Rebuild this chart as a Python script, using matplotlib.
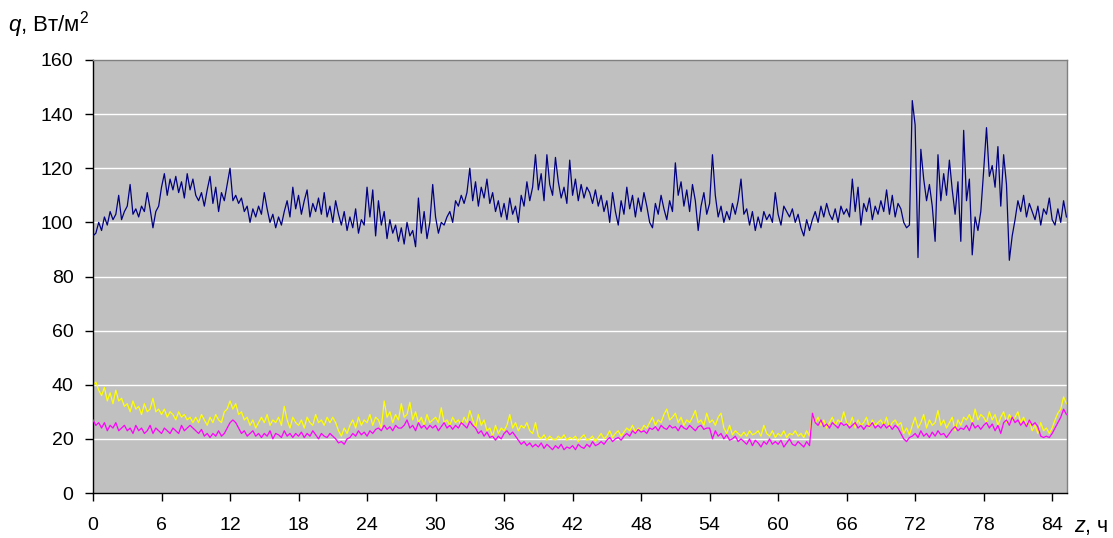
import numpy as np
import matplotlib
matplotlib.use("Agg")
import matplotlib.pyplot as plt

plt.rcParams["font.family"] = ["Liberation Sans", "DejaVu Sans"]
plt.rcParams["mathtext.fontset"] = "custom"
plt.rcParams["mathtext.rm"] = "Liberation Sans"
plt.rcParams["mathtext.it"] = "Liberation Sans:italic"

# --- data: heat flux q, W/m2, sampled every 0.25 h ---
step_h = 0.25

q_total = [
    95, 96, 100, 97, 102, 99, 104, 101, 103, 110, 101, 104,      # 0-3 h
    106, 114, 103, 105, 102, 106, 104, 111, 105, 98, 104, 106,   # 3-6
    113, 118, 110, 116, 112, 117, 111, 115, 109, 118, 112, 116,  # 6-9
    110, 108, 111, 106, 112, 117, 107, 113, 104, 111, 108, 114,  # 9-12
    120, 108, 110, 107, 109, 104, 106, 100, 105, 102, 106, 103,  # 12-15
    111, 105, 100, 103, 98, 102, 99, 104, 108, 102, 113, 105,    # 15-18
    110, 103, 108, 112, 102, 107, 104, 109, 103, 111, 102, 106,  # 18-21
    100, 108, 103, 99, 104, 97, 102, 98, 105, 96, 101, 99,       # 21-24
    113, 102, 112, 95, 108, 99, 104, 94, 101, 96, 99, 93,        # 24-27
    98, 92, 100, 95, 97, 91, 109, 96, 104, 94, 100, 114,         # 27-30
    102, 96, 100, 99, 102, 104, 100, 108, 106, 110, 107, 111,    # 30-33
    120, 108, 115, 106, 113, 109, 116, 107, 111, 104, 108, 102,  # 33-36
    107, 101, 109, 103, 106, 100, 110, 106, 115, 108, 113, 125,  # 36-39
    112, 118, 108, 125, 114, 110, 124, 115, 109, 113, 107, 123,  # 39-42
    110, 116, 108, 114, 109, 113, 111, 107, 112, 106, 110, 104,  # 42-45
    108, 100, 111, 104, 99, 108, 103, 113, 105, 110, 102, 109,   # 45-48
    104, 111, 106, 100, 98, 107, 103, 110, 105, 101, 108, 104,   # 48-51
    122, 110, 115, 106, 112, 104, 114, 108, 97, 106, 111, 103,   # 51-54
    107, 125, 110, 102, 106, 100, 104, 101, 107, 103, 108, 116,  # 54-57
    103, 105, 99, 104, 97, 102, 98, 104, 101, 103, 100, 111,     # 57-60
    103, 99, 106, 104, 102, 105, 100, 103, 98, 95, 101, 97,      # 60-63
    101, 104, 100, 106, 102, 107, 103, 101, 105, 100, 106, 103,  # 63-66
    105, 102, 116, 104, 113, 99, 107, 104, 109, 101, 106, 103,   # 66-69
    108, 104, 112, 103, 110, 102, 107, 105, 100, 98, 99, 145,    # 69-72
    136, 87, 127, 116, 108, 114, 106, 93, 125, 108, 118, 110,    # 72-75
    123, 112, 103, 115, 93, 134, 108, 116, 88, 102, 97, 104,     # 75-78
    119, 135, 117, 121, 113, 128, 106, 125, 114, 86, 95, 101,    # 78-81
    108, 104, 110, 102, 107, 104, 101, 106, 99, 105, 103, 109,   # 81-84
    101, 99, 105, 100, 108, 102,                                 # 84-85.25
]

q_yellow = [
    40, 41, 38, 36, 39, 34, 37, 33, 38, 34, 35, 32,
    33, 30, 34, 31, 32, 29, 33, 30, 31, 35, 30, 31,
    29, 31, 28, 30, 29, 27, 30, 28, 29, 27, 28, 26,
    28, 26, 29, 27, 25, 28, 26, 29, 27, 26, 30, 31,
    34, 31, 33, 29, 30, 27, 28, 25, 27, 24, 26, 28,
    26, 29, 25, 27, 26, 28, 25, 32, 27, 24, 28, 26,
    25, 27, 24, 28, 26, 25, 29, 26, 27, 25, 28, 26,
    28, 26, 23, 21, 24, 22, 25, 27, 24, 28, 25, 27,
    26, 29, 25, 28, 27, 24, 34, 28, 30, 26, 29, 27,
    33, 28, 29, 33.5, 27, 30, 26, 28, 25, 29, 26, 27,
    28, 26, 31.5, 26, 27, 25, 28, 26, 27, 25, 28, 26,
    30.5, 27, 24, 29, 25, 27, 23, 24, 21, 25, 22, 24,
    23, 25, 29, 24, 26, 23, 25, 24, 26, 23, 22, 26,
    21, 20, 21.5, 19.5, 21, 20, 19.5, 21, 20, 21.5, 19.5, 20.5,
    20, 21, 19, 20.5, 21.5, 19.5, 20, 21, 19, 20.5, 22, 20,
    21, 23, 20.5, 22, 23, 21, 22.5, 24, 23, 25, 22.5, 24,
    23, 25, 24, 26, 28, 25, 27, 26, 29, 31, 27, 28,
    29.5, 26, 28, 25, 27, 26, 28, 30.5, 26, 27, 25, 29.5,
    26, 27, 25, 28, 29.5, 24, 22, 25, 21.5, 23, 22, 21,
    22.5, 21, 23, 21.5, 22, 23, 21, 25, 22, 21, 23, 20.5,
    22, 21, 23, 20.5, 22, 21.5, 23, 21, 22, 20.5, 23, 21,
    29.5, 26, 28, 25, 27, 24, 26, 28, 25, 27, 26, 30,
    26, 25, 28, 24, 27, 25, 26, 28, 24, 27, 25, 26,
    27, 25, 28, 24, 26, 27, 25, 26, 22, 24, 21.5, 25,
    28, 24, 26, 29, 24, 27, 25, 26, 30.5, 25, 27, 24,
    26, 28, 23, 27, 25, 28, 27, 29, 26, 31, 27, 29,
    28, 26, 30, 27, 29, 25, 28, 30, 26, 29, 27, 28,
    30, 26, 28, 25, 27, 23, 25, 22, 26, 23, 24, 22,
    24, 27, 29.5, 31, 35.5, 33,
]

q_magenta = [
    27, 25, 26, 24, 26, 23, 25, 24, 26, 23, 24, 25,
    23, 24, 22, 25, 23, 24, 22, 23, 25, 22, 24, 23,
    22, 24, 23, 22, 24, 23, 22, 25, 23, 24, 25, 24,
    23, 22, 23.5, 21, 22, 20.5, 22, 21, 23, 21, 22, 24,
    26, 27, 26, 24, 22, 23, 21, 22, 23, 21, 22, 20.5,
    22, 21, 23, 20, 22, 21.5, 20.5, 23, 21, 22, 20.5, 22,
    21, 22.5, 20.5, 22, 21, 23, 21.5, 20, 22, 21, 20.5, 22,
    21, 20, 18.5, 19, 18, 20, 20.5, 22, 21, 23, 21.5, 22.5,
    21, 23, 22, 23.5, 24, 23, 25, 23.5, 24.5, 23, 25, 24,
    24, 25, 27, 24, 25, 23, 26, 24, 25, 23.5, 25, 24,
    25, 23, 24.5, 26, 24, 25, 23.5, 25, 24, 26, 25, 24,
    26.5, 25, 24, 22, 23, 21, 22.5, 20.5, 21, 19.5, 21, 20,
    22, 23, 21.5, 22.5, 21, 19.5, 18, 19, 17.5, 18.5, 17, 18,
    17, 18.5, 16.5, 18, 17, 16, 17.5, 16.5, 18, 16, 17, 16.5,
    17.5, 16, 18, 17, 16.5, 18, 17, 19, 17.5, 18, 19, 18,
    19.5, 20.5, 19, 20, 20.5, 19.5, 21, 22, 21, 23, 22, 23.5,
    22.5, 23, 22, 24, 23.5, 24.5, 23, 25, 24, 23.5, 25, 24,
    24.5, 23, 25, 24, 23.5, 25, 24, 23, 24.5, 25, 23.5, 24,
    24, 20, 23, 21, 22, 20, 21.5, 19.5, 20, 21, 19, 20,
    19, 18, 20, 17.5, 19.5, 18.5, 17, 19, 18, 20, 18, 19,
    18, 19.5, 17, 18.5, 20, 18, 17.5, 19, 18, 17, 19, 17.5,
    29.5, 26, 25, 27, 24.5, 25.5, 24, 26, 25, 24, 26, 25,
    25.5, 24, 25, 26, 24, 25, 23.5, 25, 24.5, 26, 24, 25,
    24, 25.5, 24, 25, 23.5, 25, 24, 22, 20, 19, 20.5, 21,
    22, 20.5, 23, 21, 22, 20.5, 22.5, 21, 23, 21.5, 22, 20.5,
    22, 23.5, 24.5, 23, 24, 23.5, 25, 23, 26, 24, 25, 23.5,
    25, 26, 24, 25.5, 23, 25, 22, 26, 27, 25, 28, 26,
    27, 25, 26.5, 24.5, 27, 25, 26, 24.5, 21, 20.5, 21, 20.5,
    22, 24, 26, 28, 31, 29,
]

x_ticks = list(range(0, 85, 6))
y_ticks = list(range(0, 161, 20))

z = np.arange(len(q_total)) * step_h

# --- plot ---
fig = plt.figure(figsize=(11.13, 5.38), dpi=100)
ax = fig.add_axes([93 / 1113, 45 / 538, 974 / 1113, 433 / 538])
ax.set_facecolor("#C0C0C0")

for yv in y_ticks[1:-1]:
    ax.axhline(yv, color="white", lw=1.0, zorder=1)

ax.plot(z, q_yellow, color="#FFFF00", lw=0.9, zorder=2)
ax.plot(z, q_magenta, color="#FF00FF", lw=0.9, zorder=3)
ax.plot(z, q_total, color="#000080", lw=0.9, zorder=4)

ax.set_xlim(0, 85.3)
ax.set_ylim(0, 160)
ax.set_xticks(x_ticks)
ax.set_yticks(y_ticks)
ax.tick_params(axis="both", direction="out", length=6, width=1, colors="black",
               labelsize=14)
ax.tick_params(axis="x", pad=11)
ax.tick_params(axis="y", pad=8)

for side in ["left", "bottom"]:
    ax.spines[side].set_color("black")
    ax.spines[side].set_linewidth(1)
for side in ["top", "right"]:
    ax.spines[side].set_color("#808080")
    ax.spines[side].set_linewidth(1)

fig.text(8 / 1113, 1 - 32 / 538, r"$\mathit{q}$, Вт/м$^2$", fontsize=16,
         ha="left", va="baseline")
fig.text(1074 / 1113, 1 - 532 / 538, r"$\mathit{z}$, ч", fontsize=15.5,
         ha="left", va="baseline")

fig.savefig("out.png", dpi=100)
